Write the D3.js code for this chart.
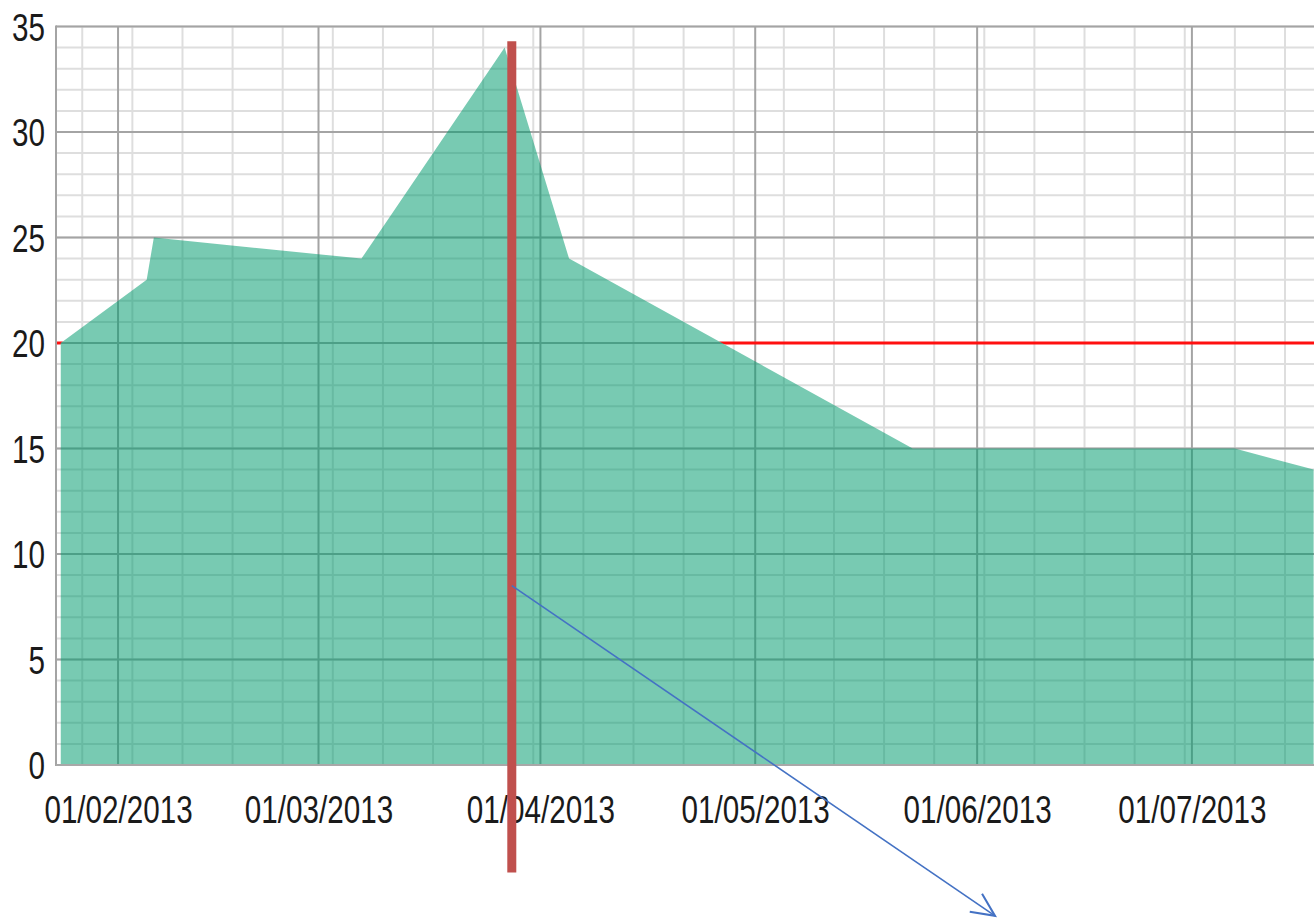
<!DOCTYPE html>
<html>
<head>
<meta charset="utf-8">
<script src="https://cdn.jsdelivr.net/npm/d3@7"></script>
<style>
  html, body { margin: 0; padding: 0; background: #ffffff; }
  svg { display: block; }
  .lbl { font-family: "Liberation Sans", Arial, sans-serif; fill: #1a1a1a; }
</style>
</head>
<body>
<script>
// ---------------- data ----------------
const dates  = ["2013-01-24","2013-02-05","2013-02-06","2013-03-07","2013-03-27","2013-04-05","2013-05-23","2013-07-07","2013-07-18"];
const values = [20, 23, 25, 24, 34, 24, 15, 15, 14];

const xDomain = ["2013-01-23T08:00", "2013-07-18T08:00"];
const yDomain = [0, 35];
const yTicks = [0, 5, 10, 15, 20, 25, 30, 35];
const monthTicks  = ["2013-02-01","2013-03-01","2013-04-01","2013-05-01","2013-06-01","2013-07-01"];
const monthLabels = ["01/02/2013","01/03/2013","01/04/2013","01/05/2013","01/06/2013","01/07/2013"];
const thresholdValue = 20;

// annotation (drawn on top of screenshot): vertical marker and arrow, in data units
const markerDate = ["2013-03-28T00:00"];
const markerRange = [34.3, -5.1];
const arrowFrom = { date: "2013-03-28T00:00", value: 8.5 };
const arrowTo   = { date: "2013-06-03T12:00", value: -7.15 };

// ---------------- setup ----------------
(function () {
const W = 1314, H = 918;
const parseD = d3.timeParse("%Y-%m-%d");
const parseDT = d3.timeParse("%Y-%m-%dT%H:%M");
const data = dates.map((d, i) => ({ date: parseD(d), v: values[i] }));

const pL = 56, pR = 1316, pT = 26.5, pB = 765;
const x = d3.scaleTime().domain(xDomain.map(parseDT)).range([pL, pR]);
const y = d3.scaleLinear().domain(yDomain).range([pB, pT]);

const svg = d3.select("body").append("svg").attr("width", W).attr("height", H);
const defs = svg.append("defs");

defs.append("clipPath").attr("id", "plotClip")
  .append("rect").attr("x", pL).attr("y", pT - 2).attr("width", pR - pL).attr("height", pB - pT + 2);

const area = d3.area().x(d => x(d.date)).y0(y(0)).y1(d => y(d.v));

// mask: threshold line hidden beneath the area
const mask = defs.append("mask").attr("id", "areaMask").attr("maskUnits", "userSpaceOnUse")
  .attr("x", 0).attr("y", 0).attr("width", W).attr("height", H);
mask.append("rect").attr("x", 0).attr("y", 0).attr("width", W).attr("height", H).attr("fill", "white");
mask.append("path").datum(data).attr("d", area).attr("fill", "black");

const plot = svg.append("g").attr("clip-path", "url(#plotClip)");

// minor grid
const [d0, d1] = x.domain();
const sundays = d3.timeSunday.range(d0, d1);
plot.append("g").selectAll("line").data(sundays).join("line")
  .attr("x1", d => x(d)).attr("x2", d => x(d)).attr("y1", pT).attr("y2", pB)
  .attr("stroke", "#dedede").attr("stroke-width", 2);
const minorY = d3.range(yDomain[0], yDomain[1] + 1, 1);
plot.append("g").selectAll("line").data(minorY).join("line")
  .attr("x1", pL).attr("x2", pR).attr("y1", d => y(d)).attr("y2", d => y(d))
  .attr("stroke", "#dedede").attr("stroke-width", 2);

// major grid
const monthDates = monthTicks.map(parseD);
plot.append("g").selectAll("line").data(monthDates).join("line")
  .attr("x1", d => x(d)).attr("x2", d => x(d)).attr("y1", pT).attr("y2", pB)
  .attr("stroke", "#a4a4a4").attr("stroke-width", 2);
plot.append("g").selectAll("line").data(yTicks).join("line")
  .attr("x1", pL).attr("x2", pR).attr("y1", d => y(d)).attr("y2", d => y(d))
  .attr("stroke", "#a4a4a4").attr("stroke-width", 2);

// threshold line (hidden under area)
plot.append("line")
  .attr("x1", pL).attr("x2", pR)
  .attr("y1", y(thresholdValue)).attr("y2", y(thresholdValue))
  .attr("stroke", "#ff1010").attr("stroke-width", 3)
  .attr("mask", "url(#areaMask)");

// area
plot.append("path").datum(data).attr("d", area)
  .attr("fill", "rgb(0,155,110)").attr("fill-opacity", 0.53);

// axis lines
svg.append("line").attr("x1", pL).attr("x2", pL).attr("y1", pT - 1).attr("y2", pB + 1)
  .attr("stroke", "#a4a4a4").attr("stroke-width", 2);
svg.append("line").attr("x1", pL).attr("x2", pR).attr("y1", pB).attr("y2", pB)
  .attr("stroke", "#a8a8a8").attr("stroke-width", 2);

const squeeze = 0.78;

// y axis labels
const yAxis = d3.axisLeft(y).tickValues(yTicks).tickSize(0).tickPadding(0).tickFormat(d3.format("d"));
const gy = svg.append("g").attr("transform", `translate(${pL - 11},0)`).call(yAxis);
gy.select(".domain").remove();
gy.attr("font-family", null).attr("font-size", null);
gy.selectAll("text").attr("class", "lbl").attr("font-size", 38).attr("fill", "#1a1a1a")
  .attr("dy", "0.36em").attr("transform", `scale(${squeeze},1)`);

// x axis labels
const xAxis = d3.axisBottom(x).tickValues(monthDates).tickSize(0).tickPadding(0)
  .tickFormat((d, i) => monthLabels[i]);
const gx = svg.append("g").attr("transform", `translate(0,${pB})`).call(xAxis);
gx.select(".domain").remove();
gx.attr("font-family", null).attr("font-size", null);
gx.selectAll("text").attr("class", "lbl").attr("font-size", 38).attr("fill", "#1a1a1a")
  .attr("dy", null).attr("y", 58).attr("transform", `scale(${squeeze},1)`);

// annotations
const md = parseDT(markerDate[0]);
svg.append("line")
  .attr("x1", x(md)).attr("x2", x(md))
  .attr("y1", y(markerRange[0])).attr("y2", y(markerRange[1]))
  .attr("stroke", "#c0504d").attr("stroke-width", 9);

defs.append("marker").attr("id", "arrowHead")
  .attr("markerUnits", "userSpaceOnUse").attr("markerWidth", 30).attr("markerHeight", 30)
  .attr("viewBox", "-20 -10 22 20").attr("refX", 0).attr("refY", 0).attr("orient", "auto")
  .append("path").attr("d", "M-17,-8 L0,0 L-17,8")
  .attr("fill", "none").attr("stroke", "#4472c4").attr("stroke-width", 1.5);

svg.append("line")
  .attr("x1", x(parseDT(arrowFrom.date))).attr("y1", y(arrowFrom.value))
  .attr("x2", x(parseDT(arrowTo.date))).attr("y2", y(arrowTo.value))
  .attr("stroke", "#4472c4").attr("stroke-width", 1.6)
  .attr("marker-end", "url(#arrowHead)");
})();
</script>
</body>
</html>
